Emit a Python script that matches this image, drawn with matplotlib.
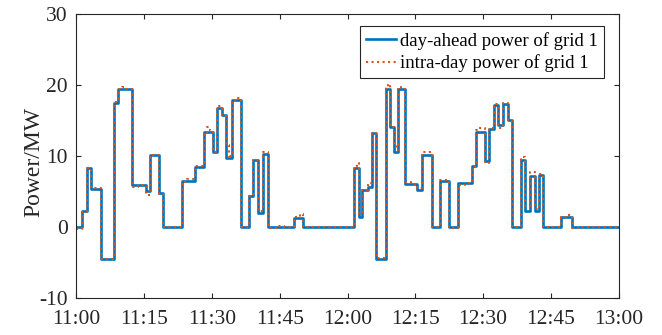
import matplotlib.pyplot as plt

plt.rcParams['font.family'] = ['Liberation Serif', 'DejaVu Serif']
plt.rcParams['axes.unicode_minus'] = False

# step start times (minutes after 11:00) and power levels
da_time = [0, 1.33, 2.3, 3.19, 5.46, 8.34, 9.29, 12.39, 15.42, 16.3, 18.36, 19.25,
           23.32, 26.26, 28.25, 30.24, 31.19, 32.17, 33.23, 34.34, 36.33, 38.27,
           39.16, 40.27, 41.24, 42.48, 48.16, 50.22, 61.5, 62.6, 63.3, 64.6, 65.5,
           66.4, 68.5, 69.4, 70.35, 71.1, 72.7, 75.3, 76.4, 78.6, 80.5, 82.5, 84.4,
           87.5, 88.4, 90.4, 91.4, 92.4, 93.4, 94.4, 95.4, 96.4, 98.3, 99.3, 100.4,
           101.5, 102.4, 103.3, 107.2, 109.6, 120]
da_power = [0, 2.3, 8.35, 5.3, -4.5, 17.4, 19.5, 5.9, 5.1, 10.1, 4.8, 0,
            6.5, 8.5, 13.4, 10.5, 16.7, 15.8, 9.7, 17.9, 0, 4.4,
            9.4, 2.0, 10.3, 0, 1.3, 0, 8.3, 1.45, 5.2, 5.7, 13.3,
            -4.45, 19.5, 14.1, 10.6, 19.5, 6.1, 5.2, 10.1, 0, 6.5, 0, 6.2,
            8.6, 13.4, 9.3, 13.8, 17.2, 14.3, 17.3, 15.1, 0, 9.4, 2.2, 7.2,
            2.2, 7.3, 0, 1.4, 0, 0]

id_time = [0, 1.33, 2.3, 3.19, 5.46, 8.34, 9.29, 10.2, 11.0, 12.39, 13.6, 15.42,
           16.3, 18.36, 19.25, 23.32, 24.5, 26.26, 28.25, 28.9, 29.6, 30.24, 31.19,
           32.17, 33.23, 33.8, 34.34, 35.0, 36.33, 38.27, 39.16, 40.27, 41.24,
           42.48, 44.5, 46.0, 48.16, 49.6, 50.22, 61.5, 62.0, 62.6, 63.3, 64.6,
           65.5, 66.4, 68.5, 69.0, 69.4, 70.35, 70.8, 71.1, 71.8, 72.7, 74.0, 75.3,
           76.4, 78.6, 80.5, 82.5, 84.4, 86.0, 87.5, 88.4, 89.2, 90.4, 91.4, 92.4,
           93.4, 94.4, 95.4, 96.4, 98.3, 99.3, 100.4, 101.5, 102.4, 103.3, 107.2,
           108.6, 109.6, 111.5, 120]
id_power = [-0.3, 2.1, 8.3, 5.5, -4.5, 17.6, 19.4, 19.7, 19.5, 5.7, 5.9, 4.5,
            10.2, 4.7, 0, 6.4, 6.7, 8.6, 13.2, 14.1, 13.5, 10.6, 17.0,
            15.6, 11.5, 10.0, 17.8, 18.2, 0, 4.4, 9.5, 2.3, 10.5,
            -0.2, 0.2, 0, 1.4, 1.8, 0, 8.6, 9.0, 1.8, 5.2, 6.2,
            13.3, -4.4, 19.7, 20.2, 14.1, 11.8, 10.8, 19.7, 19.4, 6.3, 6.0, 5.5,
            10.6, 0, 6.6, -0.2, 5.9, 6.2, 8.5, 13.6, 14.0, 9.0, 13.9, 17.3,
            14.0, 17.4, 15.0, 0, 9.8, 3.0, 7.8, 2.6, 7.4, 0, 1.45,
            1.7, -0.15, 0, 0]

tick_pos = [0, 15, 30, 45, 60, 75, 90, 105, 120]
tick_lab = ['11:00', '11:15', '11:30', '11:45', '12:00', '12:15', '12:30', '12:45', '13:00']

fig = plt.figure(figsize=(6.62, 3.35), dpi=100)
ax = fig.add_axes([76.3 / 662, 1 - 298 / 335, (618.7 - 76.3) / 662, (298 - 14) / 335])

ax.step(da_time, da_power, where='post', color='#0072BD', lw=1.9,
        label='day-ahead power of grid 1')
ax.step(id_time, id_power, where='post', color='#D95319', lw=1.5, ls=':',
        label='intra-day power of grid 1')

ax.set_xlim(0, 120)
ax.set_ylim(-10, 30)
ax.set_xticks(tick_pos)
ax.set_xticklabels(tick_lab)
ax.set_yticks([-10, 0, 10, 20, 30])
ax.tick_params(direction='in', length=3.6, width=0.8, top=True, right=True,
               labelsize=15.5, colors='#262626', pad=6)
ax.tick_params(axis='x', pad=8.5)
for s in ax.spines.values():
    s.set_linewidth(0.8)
    s.set_color('#262626')
ax.set_ylabel('Power/MW', fontsize=17, color='#262626')
ax.yaxis.set_label_coords(-0.058, 0.48)

leg = ax.legend(loc='upper right', bbox_to_anchor=(604 / 662, 1 - 26 / 335),
                bbox_transform=fig.transFigure, borderaxespad=0, fontsize=13.5,
                handlelength=1.6, handletextpad=0.25, borderpad=0.3,
                labelspacing=0.25, fancybox=False, framealpha=1)
leg.get_frame().set_edgecolor('#262626')
leg.get_frame().set_linewidth(0.8)

fig.savefig('out.png', dpi=100)
